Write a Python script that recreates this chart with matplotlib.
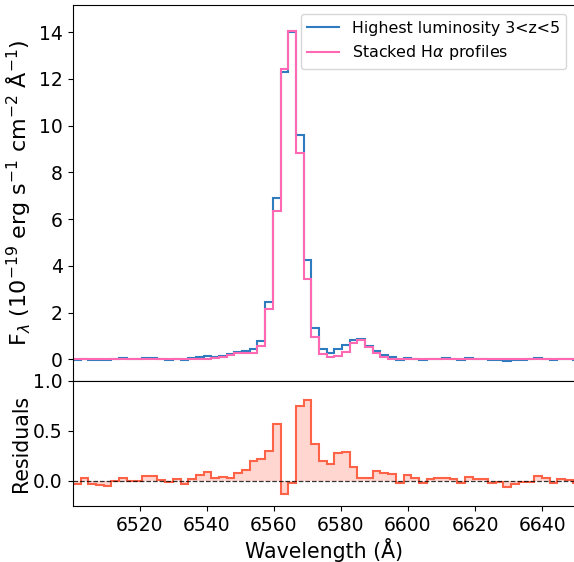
import numpy as np
import matplotlib
matplotlib.use("Agg")
import matplotlib.pyplot as plt

# ---- data ----
wave_start = 6500.12
bin_width = 2.292
n_bins = 66
wavelength_edges = np.round(wave_start + bin_width * np.arange(n_bins + 1), 3)

stacked_halpha = [
    0.0, 0.0, 0.0, 0.0, 0.0, 0.0, 0.0, 0.0, 0.0, 0.0,
    0.0, 0.0, 0.0, 0.0, 0.0, 0.02, 0.03, 0.03, 0.05, 0.09,
    0.18, 0.25, 0.26, 0.25, 0.58, 2.13, 6.35, 12.42, 14.05, 8.85,
    3.45, 0.95, 0.23, 0.09, 0.15, 0.32, 0.68, 0.83, 0.54, 0.26,
    0.09, 0.02, 0.0, 0.0, 0.0, 0.0, 0.0, 0.0, 0.0, 0.0,
    0.0, 0.0, 0.0, 0.0, 0.0, 0.0, 0.0, 0.0, 0.0, 0.0,
    0.0, 0.0, 0.0, 0.0, 0.0, 0.0,
]

highest_lum = [
    -0.03, 0.027, -0.035, -0.045, -0.055, 0.0, 0.033, 0.003, 0.003, 0.05,
    0.05, 0.01, -0.013, 0.017, -0.03, 0.04, 0.09, 0.117, 0.077, 0.133,
    0.207, 0.327, 0.37, 0.45, 0.80, 2.43, 6.92, 12.29, 14.03, 9.60,
    4.26, 1.32, 0.43, 0.26, 0.43, 0.605, 0.82, 0.857, 0.567, 0.36,
    0.17, 0.085, -0.02, 0.055, 0.03, -0.02, 0.02, 0.027, 0.033, 0.02,
    -0.02, 0.04, 0.015, 0.02, -0.02, -0.015, -0.06, -0.03, -0.015, -0.012,
    0.047, 0.03, -0.02, 0.015, 0.008, -0.023,
]

residuals = [
    -0.03, 0.027, -0.035, -0.045, -0.055, 0.0, 0.033, 0.003, 0.003, 0.05,
    0.05, 0.01, -0.013, 0.017, -0.03, 0.02, 0.06, 0.087, 0.027, 0.043,
    0.027, 0.077, 0.11, 0.20, 0.22, 0.30, 0.57, -0.13, -0.02, 0.75,
    0.81, 0.37, 0.20, 0.17, 0.28, 0.285, 0.14, 0.027, 0.027, 0.10,
    0.08, 0.065, -0.02, 0.055, 0.03, -0.02, 0.02, 0.027, 0.033, 0.02,
    -0.02, 0.04, 0.015, 0.02, -0.02, -0.015, -0.06, -0.03, -0.015, -0.012,
    0.047, 0.03, -0.02, 0.015, 0.008, -0.023,
]

label_blue = "Highest luminosity 3<z<5"
label_pink = r"Stacked H$\alpha$ profiles"

# ---- figure ----
W, H = 574, 562
fig = plt.figure(figsize=(W / 100, H / 100), dpi=100)

left_px, right_px = 72.5, 575.7
top_px, mid_px, bot_px = 4.7, 380.7, 506.0
ax1 = fig.add_axes([left_px / W, 1 - mid_px / H, (right_px - left_px) / W, (mid_px - top_px) / H])
ax2 = fig.add_axes([left_px / W, 1 - bot_px / H, (right_px - left_px) / W, (bot_px - mid_px) / H], sharex=ax1)

ax1.stairs(highest_lum, wavelength_edges, baseline=None, color="#2f7bbf", lw=1.5, label=label_blue)
ax1.stairs(stacked_halpha, wavelength_edges, baseline=None, color="#ff69b4", lw=1.5, label=label_pink)
ax1.set_xlim(6500, 6650)
ax1.set_ylim(-0.92, 15.18)
ax1.set_yticks([0, 2, 4, 6, 8, 10, 12, 14])
ax1.tick_params(axis="x", labelbottom=False, bottom=False)
ax1.tick_params(axis="y", labelsize=13.5)
ax1.set_ylabel(r"F$_\lambda$ (10$^{-19}$ erg s$^{-1}$ cm$^{-2}$ Å$^{-1}$)", fontsize=16)
ax1.yaxis.set_label_coords(-0.078, 0.5)
leg = ax1.legend(loc="upper right", fontsize=11.4, frameon=True, borderaxespad=0.6)

ax2.stairs(residuals, wavelength_edges, baseline=0, fill=True, color="tomato", alpha=0.25, lw=0)
ax2.stairs(residuals, wavelength_edges, baseline=None, color="tomato", lw=1.5)
ax2.axhline(0, color="black", ls="--", lw=0.9, alpha=0.8)
ax2.set_ylim(-0.25, 1.0)
ax2.set_yticks([0.0, 0.5, 1.0])
ax2.tick_params(labelsize=13.5)
ax2.set_xticks([6520, 6540, 6560, 6580, 6600, 6620, 6640])
ax2.set_xlabel("Wavelength (Å)", fontsize=14.8, labelpad=2)
ax2.set_ylabel("Residuals", fontsize=14.8)
ax2.yaxis.set_label_coords(-0.082, 0.5)

fig.savefig("out.png", dpi=100)
